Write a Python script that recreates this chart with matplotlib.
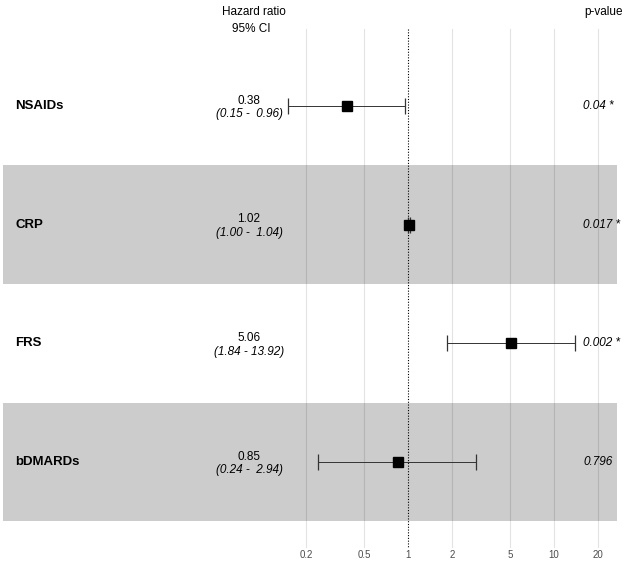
import numpy as np
import matplotlib
matplotlib.use('Agg')
import matplotlib.pyplot as plt

plt.rcParams['font.family'] = ['Liberation Sans', 'DejaVu Sans']

labels = ['NSAIDs', 'CRP', 'FRS', 'bDMARDs']
hr = [0.38, 1.02, 5.06, 0.85]
lo = [0.15, 1.00, 1.84, 0.24]
hi = [0.96, 1.04, 13.92, 2.94]
hr_txt = ['0.38', '1.02', '5.06', '0.85']
ci_txt = ['(0.15 -  0.96)', '(1.00 -  1.04)', '(1.84 - 13.92)', '(0.24 -  2.94)']
p_txt = ['0.04 *', '0.017 *', '0.002 *', '0.796']
ticks = [0.2, 0.5, 1, 2, 5, 10, 20]

W, H = 624, 568
fig = plt.figure(figsize=(W / 100, H / 100), dpi=100)
ax = fig.add_axes([0, 0, 1, 1])

# pixel layout: x=1 at 408px, 146px per decade; rows every 118.7px starting at 106px
px_dec = 146.0
x0 = 408.0
ax.set_xscale('log')
ax.set_xlim(10 ** (-x0 / px_dec), 10 ** ((W - x0) / px_dec))
row_h = 118.7
r0 = 106.0
ax.set_ylim(1 + (H - r0) / row_h, 1 - r0 / row_h)
ax.axis('off')

def xpx(p):
    return 10 ** ((p - x0) / px_dec)

def ypx(p):
    return 1 + (p - r0) / row_h

y = np.arange(1, len(labels) + 1)

# grid
for t in ticks:
    if t == 1:
        continue
    ax.plot([t, t], [ypx(29), ypx(547)], color='#e3e3e3', lw=0.8, zorder=1)
ax.plot([1, 1], [ypx(29), ypx(548)], color='black', lw=0.8, ls=(0, (1, 1.5)), zorder=3)

# shaded bands
for i in range(len(labels)):
    if i % 2 == 1:
        ax.fill_between([xpx(3), xpx(617)], y[i] - 0.5, y[i] + 0.5,
                        color='black', alpha=0.2, lw=0, zorder=2)

# estimates
ax.errorbar(hr, y, xerr=[np.array(hr) - np.array(lo), np.array(hi) - np.array(hr)],
            fmt='s', color='black', ms=7.2, ecolor='#333333', elinewidth=0.7,
            capsize=5.5, capthick=0.9, zorder=4)

for i in range(len(labels)):
    ax.text(xpx(15), y[i], labels[i], fontsize=9.5, fontweight='bold',
            ha='left', va='center', zorder=5)
    ax.text(xpx(249), y[i] - 0.045, hr_txt[i], fontsize=8.5,
            ha='center', va='center', zorder=5)
    ax.text(xpx(249), y[i] + 0.07, ci_txt[i], fontsize=8.5, style='italic',
            ha='center', va='center', zorder=5)
    ax.text(xpx(583), y[i], p_txt[i], fontsize=8.5, style='italic',
            ha='left', va='center', zorder=5)

ax.text(xpx(254), ypx(12), 'Hazard ratio', fontsize=8.5, ha='center', va='center')
ax.text(xpx(251), ypx(29), '95% CI', fontsize=8.5, ha='center', va='center')
ax.text(xpx(584), ypx(12), 'p-value', fontsize=8.5, ha='left', va='center')

for t in ticks:
    ax.text(t, ypx(555), str(t), fontsize=7, color='#4d4d4d', ha='center', va='center')

fig.savefig('out.png', dpi=100)
